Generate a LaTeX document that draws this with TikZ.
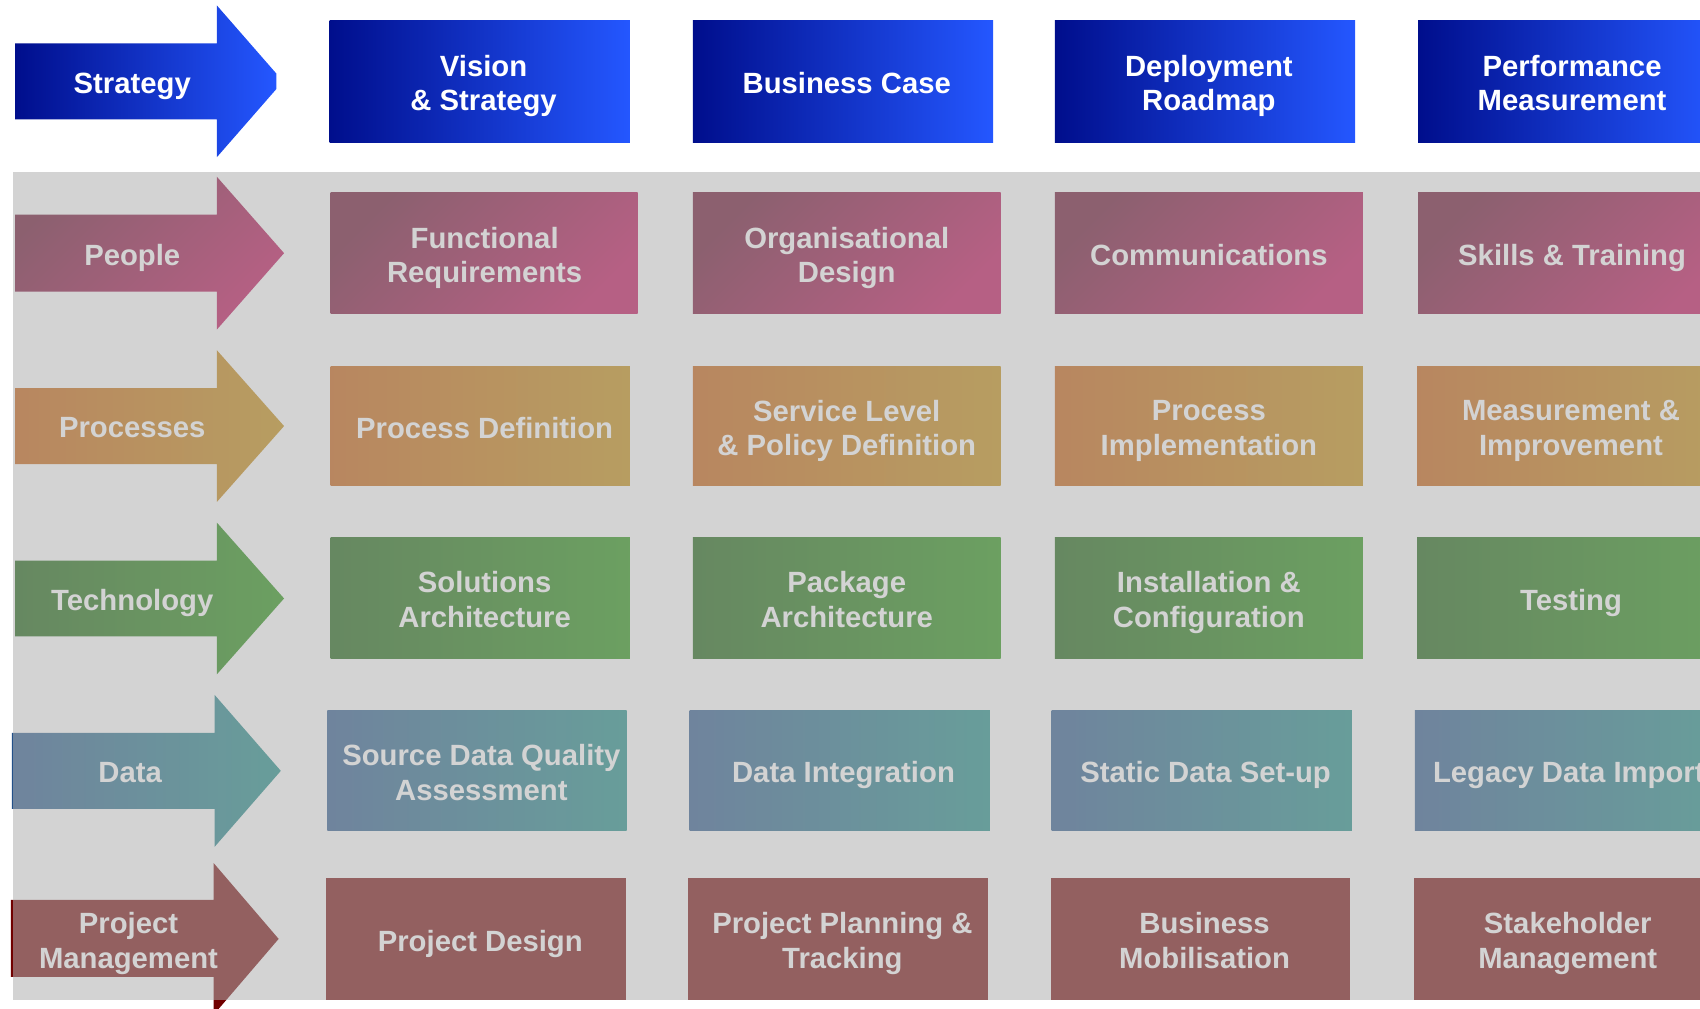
\documentclass[tikz,border=0pt]{standalone}
\usepackage{fontspec}
\setmainfont{Liberation Sans}
\usepackage{tikz}
\usepackage{xcolor}
\definecolor{navyL}{RGB}{0,14,140}
\definecolor{navyR}{RGB}{36,87,255}
\definecolor{peopleA}{RGB}{98,0,35}
\definecolor{peopleB}{RGB}{191,0,80}
\definecolor{procA}{RGB}{197,86,0}
\definecolor{procB}{RGB}{193,137,4}
\definecolor{techA}{RGB}{15,89,4}
\definecolor{techB}{RGB}{27,142,4}
\definecolor{dataA}{RGB}{35,80,137}
\definecolor{dataB}{RGB}{18,137,129}
\definecolor{pmred}{RGB}{113,0,0}
\definecolor{veil}{RGB}{175,175,175}

\begin{document}
\begin{tikzpicture}[
			x=0.5pt, y=-0.5pt,
			every node/.style={font=\bfseries\fontsize{13.5}{16}\selectfont, text=white, align=center,
					inner sep=0pt, text depth=3pt, yshift=-2.3pt},
			stratfill/.style={left color=navyL, right color=navyR},
			peoplefill/.style={top color=peopleA, bottom color=peopleB, shading angle=45},
			procfill/.style={left color=procA, right color=procB},
			techfill/.style={left color=techA, right color=techB},
			datafill/.style={left color=dataA, right color=dataB},
			pmfill/.style={fill=pmred}
		]

		\useasboundingbox (0,0) rectangle (1568,930);
		\clip (0,0) rectangle (1568,930);

		% --- Strategy row ---
		\shade[stratfill] (14,40) -- (200,40) -- (200,5) -- (255,68) -- (255,82) -- (200,145) -- (200,110) -- (14,110) -- cycle;
		\node (strategy) at (122,75) {Strategy};

		\shade[stratfill] (304,19) rectangle (581,131);
		\shade[stratfill] (639,19) rectangle (916,131);
		\shade[stratfill] (973,19) rectangle (1250,131);
		\shade[stratfill] (1308,19) rectangle (1585,131);
		\node (vision) at (446,75) {Vision\\\& Strategy};
		\node (bizcase) at (781,75) {Business Case};
		\node (roadmap) at (1115,75) {Deployment\\Roadmap};
		\node (perfmeas) at (1450,75) {Performance\\Measurement};

		% --- People row ---
		\shade[peoplefill] (14,198) -- (200,198) -- (200,163) -- (262,233.5) -- (200,304) -- (200,269) -- (14,269) -- cycle;
		\node (people) at (122,233.5) {People};

		\shade[peoplefill] (305,178) rectangle (588,289);
		\shade[peoplefill] (639,178) rectangle (923,289);
		\shade[peoplefill] (973,178) rectangle (1257,289);
		\shade[peoplefill] (1308,178) rectangle (1592,289);
		\node (funcreq) at (447,233.5) {Functional\\Requirements};
		\node (orgdesign) at (781,233.5) {Organisational\\Design};
		\node (comms) at (1115,233.5) {Communications};
		\node (skills) at (1450,233.5) {Skills \& Training};

		% --- Processes row ---
		\shade[procfill] (14,358) -- (200,358) -- (200,323) -- (262,393) -- (200,463) -- (200,428) -- (14,428) -- cycle;
		\node (processes) at (122,393) {Processes};

		\shade[procfill] (305,338) rectangle (581,448);
		\shade[procfill] (639,338) rectangle (923,448);
		\shade[procfill] (973,338) rectangle (1257,448);
		\shade[procfill] (1307,338) rectangle (1591,448);
		\node (procdef) at (447,393) {Process Definition};
		\node (slpolicy) at (781,393) {Service Level\\\& Policy Definition};
		\node (procimpl) at (1115,393) {Process\\Implementation};
		\node (measimp) at (1449,393) {Measurement \&\\Improvement};

		% --- Technology row ---
		\shade[techfill] (14,517) -- (200,517) -- (200,482) -- (262,552) -- (200,622) -- (200,587) -- (14,587) -- cycle;
		\node (technology) at (122,552) {Technology};

		\shade[techfill] (305,496) rectangle (581,607);
		\shade[techfill] (639,496) rectangle (923,607);
		\shade[techfill] (973,496) rectangle (1257,607);
		\shade[techfill] (1307,496) rectangle (1591,607);
		\node (solarch) at (447,551.5) {Solutions\\Architecture};
		\node (pkgarch) at (781,551.5) {Package\\Architecture};
		\node (instconf) at (1115,551.5) {Installation \&\\Configuration};
		\node (testing) at (1449,551.5) {Testing};

		% --- Data row ---
		\shade[datafill] (11,676) -- (198,676) -- (198,641) -- (259,711) -- (198,781) -- (198,746) -- (11,746) -- cycle;
		\node (data) at (120,711) {Data};

		\shade[datafill] (302,655) rectangle (578,766);
		\shade[datafill] (636,655) rectangle (913,766);
		\shade[datafill] (970,655) rectangle (1247,766);
		\shade[datafill] (1305,655) rectangle (1582,766);
		\node (srcdq) at (444,710.5) {Source Data Quality\\Assessment};
		\node (dataint) at (778,710.5) {Data Integration};
		\node (staticdata) at (1112,710.5) {Static Data Set-up};
		\node (legacy) at (1447,710.5) {Legacy Data Import};

		% --- Project management row ---
		\fill[pmfill] (10,830) -- (197,830) -- (197,796) -- (257,866) -- (197,936) -- (197,901) -- (10,901) -- cycle;
		\node (projmgmt) at (118.5,866) {Project\\Management};

		\fill[pmfill] (301,810) rectangle (577,922);
		\fill[pmfill] (635,810) rectangle (911,922);
		\fill[pmfill] (969,810) rectangle (1245,922);
		\fill[pmfill] (1304,810) rectangle (1580,922);
		\node (projdesign) at (443,866) {Project Design};
		\node (projplan) at (777,866) {Project Planning \&\\Tracking};
		\node (bizmob) at (1111,866) {Business\\Mobilisation};
		\node (stakeholder) at (1446,866) {Stakeholder\\Management};

		% --- Grey veil over the lower rows ---
		\fill[veil, opacity=0.55] (12,159) rectangle (1600,922);

	\end{tikzpicture}
\end{document}
